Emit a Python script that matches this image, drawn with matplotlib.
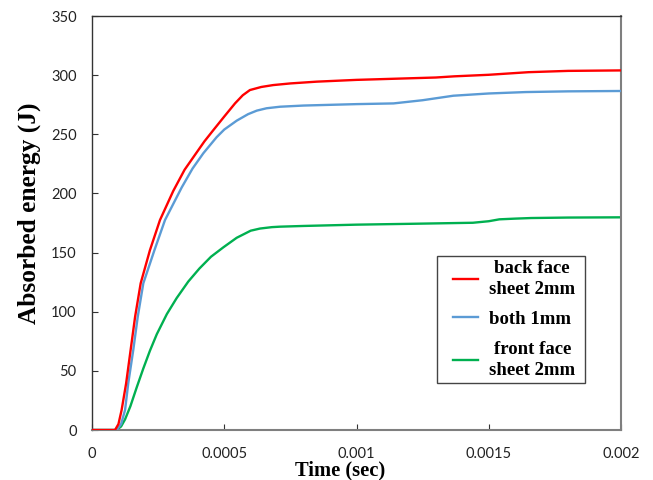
import matplotlib
matplotlib.use("Agg")
import matplotlib.pyplot as plt

# Data (time in sec, absorbed energy in J)
t_back = [0, 0.000087, 0.0001, 0.000112, 0.000129, 0.000146, 0.000163, 0.000184, 0.000219,
          0.000257, 0.000307, 0.00035, 0.000389, 0.000425, 0.000459, 0.0005, 0.000541, 0.00057,
          0.000597, 0.00064, 0.000685, 0.00075, 0.00085, 0.001, 0.00115, 0.0013, 0.00137,
          0.0015, 0.00165, 0.0018, 0.002]
e_back = [0, 0, 5, 16.9, 39.4, 67.6, 95.8, 124, 152,
          177.5, 202, 220, 232.5, 244, 253.6, 265, 276.2, 283,
          287.4, 290, 291.6, 293, 294.5, 296, 297, 298, 299,
          300.3, 302.5, 303.6, 304]

t_both = [0, 0.000093, 0.00011, 0.000125, 0.000137, 0.000156, 0.000173, 0.000194, 0.000236,
          0.000276, 0.000339, 0.00038, 0.000421, 0.000471, 0.0005, 0.000547, 0.00059, 0.000623,
          0.00066, 0.000711, 0.0008, 0.001, 0.00114, 0.00125, 0.001366, 0.0015, 0.00164,
          0.0018, 0.002]
e_both = [0, 0, 5, 16.9, 39.4, 67.6, 95.8, 124, 152,
          177.5, 205, 221, 234, 247.5, 254, 261.5, 267, 270,
          272, 273.3, 274.3, 275.5, 276.1, 278.8, 282.6, 284.5, 285.7,
          286.3, 286.6]

t_front = [0, 0.000093, 0.00011, 0.000125, 0.000145, 0.000169, 0.000194, 0.000219, 0.000245,
           0.000283, 0.00032, 0.000364, 0.000406, 0.00045, 0.000497, 0.000547, 0.0006, 0.000635,
           0.00068, 0.000711, 0.0008, 0.001, 0.0012, 0.00144, 0.0015, 0.00154, 0.0016, 0.00166,
           0.0018, 0.002]
e_front = [0, 0, 3, 9, 20, 36, 52, 67, 81,
           98, 111.5, 125.5, 136.5, 146.5, 154.5, 162.5, 168.5, 170.3,
           171.5, 171.9, 172.5, 173.6, 174.3, 175.2, 176.5, 178.1, 178.7, 179.2,
           179.6, 179.8]

labels = ["back face\nsheet 2mm", "both 1mm", "front face\nsheet 2mm"]
colors = ["#FF0000", "#5B9BD5", "#00B050"]

x_ticks = [0, 0.0005, 0.001, 0.0015, 0.002]
x_tick_labels = ["0", "0.0005", "0.001", "0.0015", "0.002"]
y_ticks = [0, 50, 100, 150, 200, 250, 300, 350]

fig = plt.figure(figsize=(6.53, 4.8), dpi=100)
ax = fig.add_axes([92 / 653, 1 - 430 / 480, (621 - 92) / 653, (430 - 16) / 480])

ax.plot(t_front, e_front, color=colors[2], lw=1.7, label=labels[2], zorder=2,
        solid_joinstyle="round")
ax.plot(t_both, e_both, color=colors[1], lw=1.7, label=labels[1], zorder=3,
        solid_joinstyle="round")
ax.plot(t_back, e_back, color=colors[0], lw=1.7, label=labels[0], zorder=4,
        solid_joinstyle="round")

ax.set_xlim(0, 0.002)
ax.set_ylim(0, 350)
ax.set_xticks(x_ticks)
ax.set_xticklabels(x_tick_labels)
ax.set_yticks(y_ticks)

for lab in ax.get_xticklabels() + ax.get_yticklabels():
    lab.set_fontfamily("Lato")
    lab.set_fontsize(10.5)
    lab.set_color("#222222")

ax.tick_params(direction="in", length=4, width=0.8, color="#333333")
ax.tick_params(axis="x", pad=12)
ax.tick_params(axis="y", pad=11)
for side in ["left", "top"]:
    ax.spines[side].set_color("#333333")
    ax.spines[side].set_linewidth(1.0)
for side in ["bottom", "right"]:
    ax.spines[side].set_color("#7F7F7F")
    ax.spines[side].set_linewidth(1.5)

ax.set_xlabel("Time (sec)", fontfamily="Liberation Serif", fontweight="bold", fontsize=14.8,
              labelpad=0, x=0.469)
ax.set_ylabel("Absorbed energy (J)", fontfamily="Liberation Serif", fontweight="bold", fontsize=18.3,
              labelpad=7, y=0.523)

handles, labs = ax.get_legend_handles_labels()
order = [2, 1, 0]
fs = 13.5
leg = ax.legend([handles[i] for i in order], [labs[i] for i in order],
                loc="upper left", bbox_to_anchor=(0.652, 0.420, 0.280, 0.0), mode="expand",
                frameon=True, fancybox=False, edgecolor="#444444", framealpha=1,
                prop={"family": "Liberation Serif", "weight": "bold", "size": fs},
                handlelength=2.0, handletextpad=0.59, labelspacing=0.68, borderpad=0.2,
                borderaxespad=0)
leg.get_frame().set_linewidth(1.0)
for txt in leg.get_texts():
    txt.set_multialignment("center")
    txt.set_linespacing(1.32)
# inset the legend line samples a little from the left edge of their box
for ln in leg.get_lines():
    xd = list(ln.get_xdata())
    ln.set_xdata([xd[0] + 8.8, xd[-1]])
    ln.set_ydata([ln.get_ydata()[0]] * 2)

fig.savefig("out.png", dpi=100)
